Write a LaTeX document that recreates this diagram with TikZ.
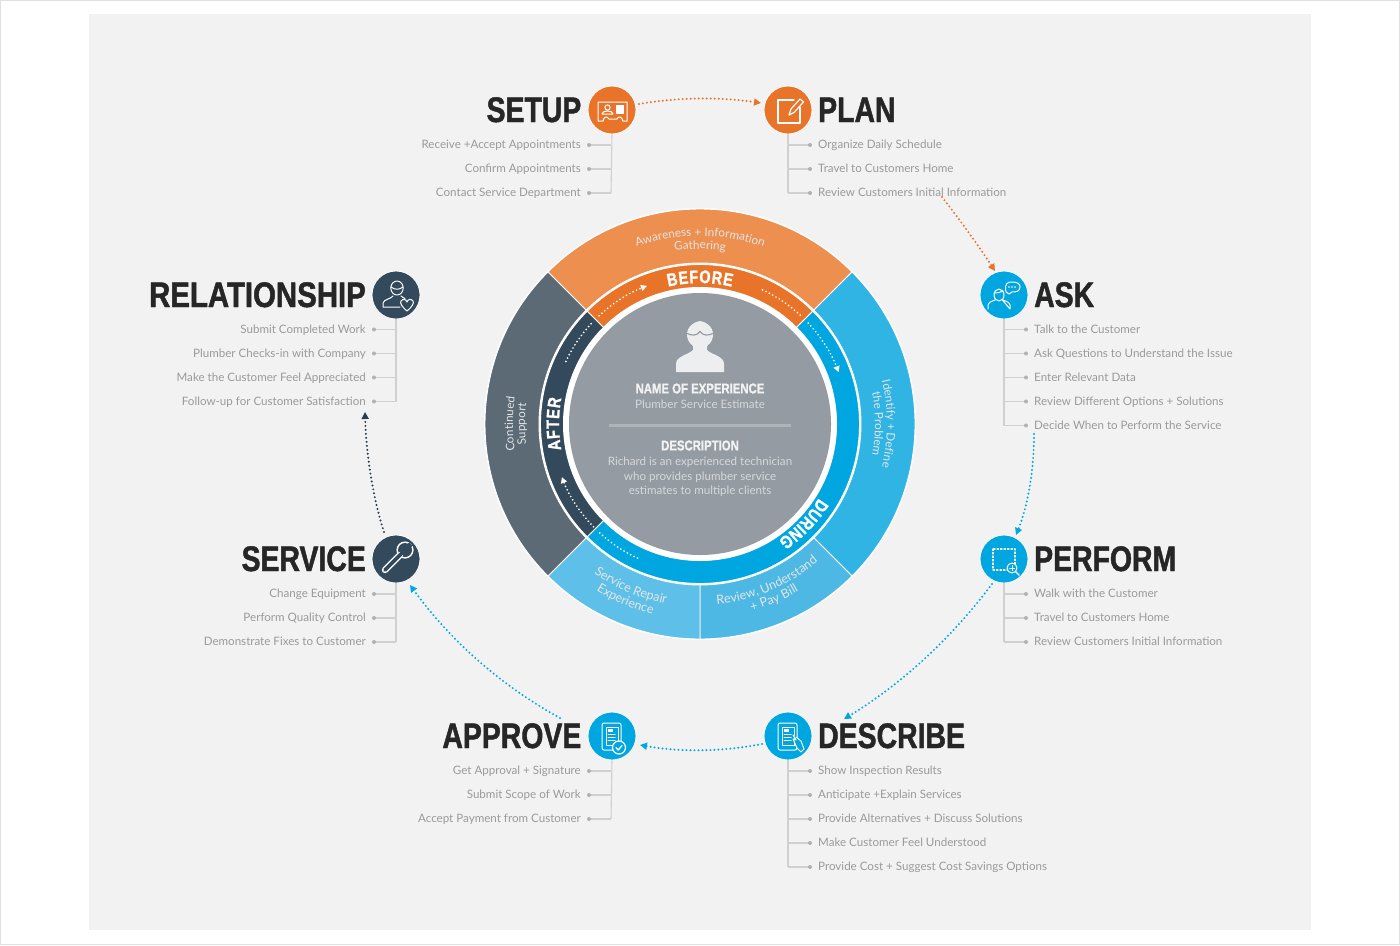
\documentclass[tikz,border=0pt]{standalone}
\usepackage{fontspec}
\setmainfont{Lato}
\newfontfamily\headf[FakeStretch=0.80,BoldFeatures={FakeBold=1.3}]{Liberation Sans}
\usetikzlibrary{arrows.meta,decorations.text}
\definecolor{pagebg}{HTML}{F2F2F2}
\definecolor{orD}{HTML}{E8742A}
\definecolor{orL}{HTML}{EC8F4F}
\definecolor{blD}{HTML}{00A6E0}
\definecolor{blM}{HTML}{2FB4E4}
\definecolor{blL}{HTML}{4DB8E4}
\definecolor{blX}{HTML}{5EC0E8}
\definecolor{nvD}{HTML}{33495C}
\definecolor{nvL}{HTML}{5B6A75}
\definecolor{ctr}{HTML}{949BA2}
\definecolor{itemc}{HTML}{9A9A9A}
\definecolor{linec}{HTML}{D0D0D0}
\tikzset{
 iconcirc/.style={circle,draw=white,line width=.8pt,minimum size=48pt,inner sep=0pt,fill=#1},
 heading/.style={font=\headf\bfseries\fontsize{35.5}{36}\selectfont,text=black!85,inner sep=0pt},
 itemL/.style={anchor=west,font=\fontsize{11.6}{14}\selectfont,text=itemc,inner sep=0pt,text height=9pt,text depth=3pt,yshift=-.6pt},
 itemR/.style={anchor=east,font=\fontsize{11.6}{14}\selectfont,text=itemc,inner sep=0pt,text height=9pt,text depth=3pt,yshift=-.6pt},
 tick/.style={draw=linec,line width=1.1pt},
 dotlink/.style={line width=2.2pt,line cap=round,dash pattern=on 0pt off 4pt,-{Triangle[length=7pt,width=7pt]}},
 bandlink/.style={white,line width=1.9pt,line cap=round,dash pattern=on 0pt off 3.8pt},
 ic/.style={draw=white,line width=1pt,line join=round,line cap=round},
 ctrtxt/.style={inner sep=0pt,align=center},
}
\newcommand\sectorfill[5]{\fill[#5,draw=white,line width=.9pt] (#1:#4) arc (#1:#2:#4) -- (#2:#3) arc (#2:#1:#3) -- cycle;}
\newcommand\curved[5]{\path[decorate,decoration={text along path,text align={#4},text={|#5|#3}}] (#1) #2;}
\newcommand\rightlist[5]{% name, x, y0, n-1, items
 \coordinate (#1end) at (#2,#3+24*#4);
 \draw[tick] (#1.south) -- (#1end);
 \foreach \t [count=\i from 0] in {#5}{
  \node[itemL] (#1t\i) at (#2+30,#3+24*\i) {\t};
  \coordinate (#1d\i) at (#2+22,#3+24*\i);
  \draw[tick] (#2,#3+24*\i) -- (#1d\i);
  \fill[linec!85!black] (#1d\i) circle (2);
 }}
\newcommand\leftlist[5]{%
 \coordinate (#1end) at (#2,#3+24*#4);
 \draw[tick] (#1.south) -- (#1end);
 \foreach \t [count=\i from 0] in {#5}{
  \node[itemR] (#1t\i) at (#2-30,#3+24*\i) {\t};
  \coordinate (#1d\i) at (#2-22,#3+24*\i);
  \draw[tick] (#2,#3+24*\i) -- (#1d\i);
  \fill[linec!85!black] (#1d\i) circle (2);
 }}
\begin{document}
\begin{tikzpicture}[x=1pt,y=-1pt]
\useasboundingbox (0,0) rectangle (1400,945);
\fill[white] (0,0) rectangle (1400,945);
\draw[black!12,line width=1pt] (0.5,0.5) rectangle (1399.5,944.5);
\fill[pagebg] (89,14) rectangle (1311,930);

% ---------- central wheel ----------
\begin{scope}[shift={(700,424)},y=1pt]
 \fill[white] (0,0) circle (216);
 \sectorfill{45}{135}{161}{215}{orL}
 \sectorfill{-45}{45}{161}{215}{blM}
 \sectorfill{-90}{-45}{161}{215}{blL}
 \sectorfill{-135}{-90}{161}{215}{blX}
 \sectorfill{135}{225}{161}{215}{nvL}
 \fill[white] (0,0) circle (160.5);
 \sectorfill{45}{135}{136}{159.5}{orD}
 \sectorfill{-135}{45}{136}{159.5}{blD}
 \sectorfill{135}{225}{136}{159.5}{nvD}
 \fill[white] (0,0) circle (137);
 \node[circle,fill=ctr,minimum size=262pt,inner sep=0pt] (hub) at (0,0) {};
 % band arrows
 \draw[bandlink,-{Triangle[length=6pt,width=6pt]}] (133:148) arc (133:111:148);
 \draw[bandlink] (65:148) arc (65:46:148);
 \draw[bandlink,-{Triangle[length=6pt,width=6pt]}] (43:148) arc (43:20.5:148);
 \draw[bandlink] (245:148) arc (245:226:148);
 \draw[bandlink,-{Triangle[length=6pt,width=6pt]}] (224:148) arc (224:201:148);
 \draw[bandlink] (155:148) arc (155:136:148);
 % band labels
 \curved{103:141}{arc (103:77:141)}{BEFORE}{fit to path}{\headf\bfseries\fontsize{18}{18}\selectfont\color{white}}
 \curved{-32:140}{arc (-32:-56:140)}{DURING}{fit to path}{\headf\bfseries\fontsize{18}{18}\selectfont\color{white}}
 \curved{190.5:141}{arc (190.5:169.5:141)}{AFTER}{fit to path}{\headf\bfseries\fontsize{18}{18}\selectfont\color{white}}
 % sector labels
 \def\sf{\fontsize{11.7}{14}\selectfont\color{white!90!black}}
 \def\sfb{\fontsize{12.6}{14}\selectfont\color{white!90!black}}
 \curved{120:188}{arc (120:60:188)}{Awareness + Information}{center}{\sf}
 \curved{110:175}{arc (110:70:175)}{Gathering}{center}{\sf}
 \curved{30:187}{arc (30:-30:187)}{Identify + Define}{center}{\sf}
 \curved{30:175}{arc (30:-30:175)}{the Problem}{center}{\sf}
 \curved{205:187}{arc (205:155:187)}{Continued}{center}{\sf}
 \curved{205:175}{arc (205:155:175)}{Support}{center}{\sf}
 \curved{227:183}{arc (227:267:183)}{Service Repair}{center}{\sfb}
 \curved{227:196}{arc (227:267:196)}{Experience}{center}{\sfb}
 \curved{269:181}{arc (269:317:181)}{Review, Understand}{center}{\sfb}
 \curved{269:194}{arc (269:317:194)}{+ Pay Bill}{center}{\sfb}
\end{scope}

% hub figure
\fill[white!83!ctr] (676,372) -- (676,364) .. controls (676,356) and (688,355) .. (693,350)
  -- (693,346) .. controls (684,340) and (684,324) .. (700,321)
  .. controls (716,324) and (716,340) .. (707,346) -- (707,350)
  .. controls (712,355) and (724,356) .. (724,364) -- (724,372) -- cycle;
\draw[ctr,line width=1.1pt] (686,333) .. controls (692,336) and (697,336) .. (700,331.5) .. controls (703,336) and (708,336) .. (714,333);

% hub texts
\node[ctrtxt,font=\headf\bfseries\fontsize{14.2}{16}\selectfont,text=white!95!black] (hubname) at (700,388.5) {NAME OF EXPERIENCE};
\node[ctrtxt,font=\fontsize{11.6}{14}\selectfont,text=white!62!ctr] (hubsub) at (700,404.5) {Plumber Service Estimate};
\coordinate (hubruleL) at (609,425); \coordinate (hubruleR) at (791,425);
\draw[white!25!ctr,line width=3pt] (hubruleL) -- (hubruleR);
\node[ctrtxt,font=\headf\bfseries\fontsize{14.2}{16}\selectfont,text=white!95!black] (hubdesc) at (700,445.5) {DESCRIPTION};
\node[ctrtxt,font=\fontsize{11.6}{14.6}\selectfont,text=white!62!ctr] (hubbody) at (700,477) {Richard is an experienced technician\\who provides plumber service\\estimates to multiple clients};

% ---------- outer nodes ----------
\node[iconcirc=orD] (setup) at (612,110) {};
\node[iconcirc=orD] (plan) at (788,110) {};
\node[iconcirc=blD] (ask) at (1004,295) {};
\node[iconcirc=blD] (perform) at (1004,559) {};
\node[iconcirc=blD] (describe) at (788,736) {};
\node[iconcirc=blD] (approve) at (612,736) {};
\node[iconcirc=nvD] (service) at (396,559) {};
\node[iconcirc=nvD] (relationship) at (396,295) {};

\node[heading,anchor=base east] (setupH) at (581.5,122) {SETUP};
\node[heading,anchor=base west] (planH) at (818,122) {PLAN};
\node[heading,anchor=base west] (askH) at (1034,307) {ASK};
\node[heading,anchor=base west] (performH) at (1034,571) {PERFORM};
\node[heading,anchor=base west] (describeH) at (818,748) {DESCRIBE};
\node[heading,anchor=base east] (approveH) at (581.5,748) {APPROVE};
\node[heading,anchor=base east] (serviceH) at (366,571) {SERVICE};
\node[heading,anchor=base east] (relationshipH) at (366,307) {\scalebox{1.035}[1]{RELATIONSHIP}};

\leftlist{setup}{611}{145}{2}{Receive +Accept Appointments,Confirm Appointments,Contact Service Department}
\rightlist{plan}{788}{145}{2}{Organize Daily Schedule,Travel to Customers Home,Review Customers Initial Information}
\rightlist{ask}{1004}{329.5}{4}{Talk to the Customer,Ask Questions to Understand the Issue,Enter Relevant Data,Review Different Options + Solutions,Decide When to Perform the Service}
\rightlist{perform}{1004}{594}{2}{Walk with the Customer,Travel to Customers Home,Review Customers Initial Information}
\rightlist{describe}{788}{771}{4}{Show Inspection Results,Anticipate +Explain Services,Provide Alternatives + Discuss Solutions,Make Customer Feel Understood,Provide Cost + Suggest Cost Savings Options}
\leftlist{approve}{611}{771}{2}{Get Approval + Signature,Submit Scope of Work,Accept Payment from Customer}
\leftlist{service}{396}{594}{2}{Change Equipment,Perform Quality Control,Demonstrate Fixes to Customer}
\leftlist{relationship}{396}{329.5}{3}{Submit Completed Work,Plumber Checks-in with Company,Make the Customer Feel Appreciated,Follow-up for Customer Satisfaction}

% ---------- connectors ----------
\coordinate (c1a) at (639,104); \coordinate (c1b) at (761,103);
\coordinate (c2a) at (942,197); \coordinate (c2b) at (995,271);
\coordinate (c3a) at (1034,434); \coordinate (c3b) at (1016,535);
\coordinate (c4a) at (992,584); \coordinate (c4b) at (844,719);
\coordinate (c5a) at (762,744); \coordinate (c5b) at (640,745);
\coordinate (c6a) at (560,718); \coordinate (c6b) at (410,585);
\coordinate (c7a) at (384,532); \coordinate (c7b) at (365,412);
\draw[dotlink,orD] (c1a) .. controls (680,97) and (720,97) .. (c1b);
\draw[dotlink,orD] (c2a) .. controls (960,220) and (978,245) .. (c2b);
\draw[dotlink,blD] (c3a) .. controls (1034,470) and (1028,505) .. (c3b);
\draw[dotlink,blD] (c4a) .. controls (950,640) and (900,685) .. (c4b);
\draw[dotlink,blD] (c5a) .. controls (720,752) and (680,752) .. (c5b);
\draw[dotlink,blD] (c6a) .. controls (500,685) and (450,640) .. (c6b);
\draw[dotlink,nvD!85!black] (c7a) .. controls (372,495) and (366,450) .. (c7b);

% ---------- icons ----------
\begin{scope}[shift={(setup.center)},ic]
 \draw (-14,11) -- (-14,-8) -- (15,-8) -- (15,11) -- (11,11) .. controls (10,6) and (6,6) .. (5,9) -- (-3,9) .. controls (-5,6) and (-8,6) .. (-9,11) -- cycle;
 \draw (-4.5,-2.5) circle (2.6);
 \draw (-10,4) .. controls (-10,0) and (1,0) .. (1,4) -- cycle;
 \fill[white] (4,-5) rectangle (11.5,4);
\end{scope}
\begin{scope}[shift={(plan.center)},ic,line width=1.2pt]
 \draw (6,-10) -- (-10,-10) -- (-10,13) -- (12,13) -- (12,-3);
 \draw[fill=orD] (1,5) -- (3,-1) -- (12,-11) -- (15.5,-8) -- (6,2.5) -- cycle;
\end{scope}
\begin{scope}[shift={(ask.center)},ic]
 \draw (-5,0) ellipse (5 and 6);
 \draw (-10,-2) .. controls (-6,-2) and (-3,-3) .. (-1,-4);
 \draw (-16,14) -- (-16,10) .. controls (-15,6) and (-10,6) .. (-8,4.5) (-2,4.5) .. controls (0,6) and (5,6) .. (6,10) -- (6,14) -- cycle;
 \draw[fill=blD] (2,-3) .. controls (0,-12) and (4,-13) .. (8,-13) .. controls (14,-13) and (16,-11) .. (16,-8) .. controls (16,-4) and (13,-3) .. (8,-3) -- (5,-1) -- cycle;
 \fill[white] (5,-8) circle (.8) (8,-8) circle (.8) (11,-8) circle (.8);
\end{scope}
\begin{scope}[shift={(perform.center)},ic]
 \draw[line width=1.2pt,dash pattern=on 1.5pt off 2pt] (-11,-10) rectangle (11,11);
 \draw[fill=blD] (8,9) circle (5);
 \draw (8,6.5) -- (8,11.5) (5.5,9) -- (10.5,9);
 \draw[line width=1.4pt] (11.7,12.7) -- (15,16);
\end{scope}
\begin{scope}[shift={(describe.center)},ic]
 \draw[rounded corners=2pt] (-10,-13) rectangle (9,14);
 \draw (-6,-9) rectangle (6,9);
 \fill[white] (-4,-7) rectangle (1,-4);
 \draw (-4,-2) -- (3,-2) (-4,1) -- (3,1) (-4,4) -- (3,4);
 \draw[fill=blD] (5,-1) -- (8,4) -- (5,3) -- (9,12) -- (13,16) -- (16,13) -- (13,5) -- (8,1);
\end{scope}
\begin{scope}[shift={(approve.center)},ic]
 \draw[rounded corners=2pt] (-10,-13) rectangle (9,14);
 \draw (-6,-9) rectangle (6,9);
 \fill[white] (-4,-7) rectangle (1,-4);
 \draw (-4,-2) -- (3,-2) (-4,1) -- (3,1) (-4,4) -- (3,4);
 \draw[fill=blD,line width=1.2pt] (7,11.5) circle (6.5);
 \draw[line width=1.3pt] (4,11.5) -- (6.3,14) -- (10,9.5);
\end{scope}
\begin{scope}[shift={(service.center)}]
 \fill[white] (9,-9) circle (8.6);
 \fill[nvD] (9,-9) circle (7);
 \draw[white,line width=6.4pt,line cap=round] (-11,11) -- (4,-4);
 \draw[nvD,line width=3.8pt,line cap=round] (-11,11) -- (6,-6);
 \draw[nvD,line width=4.8pt] (8,-8) -- (15,-15);
\end{scope}
\begin{scope}[shift={(relationship.center)},ic]
 \draw (1,-7) ellipse (6.2 and 7);
 \draw (-5,-8) .. controls (-1,-5) and (3,-5) .. (7,-8);
 \draw (-13,12) -- (-13,8) .. controls (-12,4) and (-5,4) .. (-3,1) (5,1) .. controls (6,2) and (8,3) .. (9,3.5) (-13,12) -- (4,12);
 \draw[fill=nvD] (11,16) .. controls (5,11) and (4,8) .. (5,6) .. controls (7,3.5) and (10,4) .. (11,7) .. controls (12,4) and (15,3.5) .. (17,6) .. controls (18,8) and (17,11) .. (11,16) -- cycle;
\end{scope}
\end{tikzpicture}
\end{document}
